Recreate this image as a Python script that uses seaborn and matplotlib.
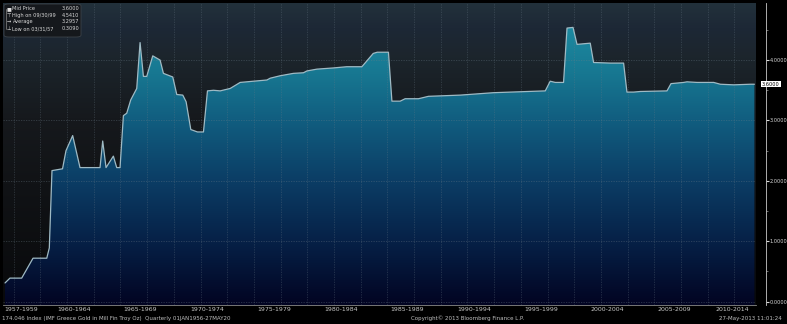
import numpy as np
import matplotlib
matplotlib.use("Agg")
import matplotlib.pyplot as plt
import matplotlib.transforms as mtransforms
from matplotlib.colors import LinearSegmentedColormap
from matplotlib.patches import Polygon, FancyBboxPatch
import seaborn as sns

# ---------------- data ----------------
years = [1957.35, 1957.72, 1958.60, 1959.45, 1960.48, 1960.67, 1960.87, 1961.66,
         1961.92, 1962.42, 1962.97, 1964.47, 1964.67, 1964.92, 1965.47, 1965.72,
         1965.97, 1966.22, 1966.47, 1966.77, 1967.22, 1967.47, 1967.72, 1967.97,
         1968.42, 1968.97, 1969.22, 1969.92, 1970.22, 1970.67, 1970.92, 1971.27,
         1971.77, 1972.22, 1972.52, 1972.97, 1973.47, 1974.22, 1974.97, 1975.96,
         1976.97, 1977.22, 1977.96, 1978.96, 1979.71, 1979.97, 1980.72, 1981.96,
         1982.96, 1984.09, 1984.94, 1985.24, 1986.08, 1986.34, 1986.96, 1987.33,
         1988.33, 1989.08, 1991.46, 1993.95, 1997.83, 1998.20, 1998.58, 1999.20,
         1999.46, 1999.91, 2000.21, 2001.20, 2001.45, 2002.70, 2003.70, 2003.95,
         2004.45, 2004.95, 2006.95, 2007.25, 2008.20, 2008.45, 2009.20, 2010.45,
         2010.95, 2011.95, 2013.20, 2013.50]
gold_moz = [0.31, 0.39, 0.39, 0.72, 0.72, 0.89, 2.17, 2.20,
            2.50, 2.75, 2.22, 2.22, 2.66, 2.22, 2.41, 2.22,
            2.22, 3.08, 3.12, 3.34, 3.53, 4.29, 3.73, 3.73,
            4.07, 4.00, 3.78, 3.72, 3.43, 3.42, 3.31, 2.85,
            2.81, 2.81, 3.49, 3.50, 3.49, 3.53, 3.63, 3.65,
            3.67, 3.70, 3.74, 3.78, 3.79, 3.82, 3.85, 3.87,
            3.89, 3.89, 4.11, 4.13, 4.13, 3.32, 3.32, 3.36,
            3.36, 3.40, 3.42, 3.46, 3.49, 3.65, 3.63, 3.63,
            4.53, 4.541, 4.26, 4.28, 3.96, 3.95, 3.95, 3.47,
            3.47, 3.48, 3.49, 3.61, 3.63, 3.64, 3.63, 3.63,
            3.60, 3.59, 3.60, 3.60]

period_starts = [1957, 1960, 1965, 1970, 1975, 1980, 1985, 1990, 1995, 2000, 2005, 2010]
period_labels = ["1957-1959", "1960-1964", "1965-1969", "1970-1974", "1975-1979",
                 "1980-1984", "1985-1989", "1990-1994", "1995-1999", "2000-2004",
                 "2005-2009", "2010-2014"]
ytick_values = [0, 1, 2, 3, 4]
ytick_labels = ["0.0000", "1.0000", "2.0000", "3.0000", "4.0000"]
last_value_label = "3.6000"
legend_names = ["Mid Price", "High on 09/30/99", "Average", "Low on 03/31/57"]
legend_values = ["3.6000", "4.5410", "3.2957", "0.3090"]
legend_icons = ["\u25A0", "\u22A4", "\u2192", "\u22A5"]
footer_left = "174.046 Index (IMF Greece Gold in Mill Fin Troy Oz)  Quarterly 01JAN1956-27MAY20"
footer_mid = "Copyright\u00a9 2013 Bloomberg Finance L.P."
footer_right = "27-May-2013 11:01:24"

# ---------------- figure ----------------
W, H = 787, 324
sns.set_style("dark")
plt.rcParams["font.family"] = ["DejaVu Sans"]
fig = plt.figure(figsize=(W / 100, H / 100), dpi=100, facecolor="black")


def fx(px):
    return px / W


def fy(py):
    return 1 - py / H


ax = fig.add_axes([fx(3), fy(305), fx(756) - fx(3), fy(3) - fy(305)])
xmin, xmax = 1957.2, 2013.62
ymin, ymax = -0.055, 4.945
ax.set_xlim(xmin, xmax)
ax.set_ylim(ymin, ymax)
ax.set_facecolor("#0a0b0e")

# background gradient
bg_cmap = LinearSegmentedColormap.from_list(
    "bg", [(0.0, "#08090b"), (0.4, "#111316"), (0.62, "#16191d"),
           (0.82, "#1c252c"), (0.92, "#1d2836"), (1.0, "#22313b")])
grad = np.linspace(0, 1, 256).reshape(-1, 1)
ax.imshow(grad, extent=[xmin, xmax, ymin, ymax], aspect="auto", cmap=bg_cmap,
          origin="lower", zorder=0, interpolation="bicubic")

# gradient area fill clipped to the series polygon
fill_cmap = LinearSegmentedColormap.from_list(
    "fill", [(0.0, "#020422"), (0.22, "#062046"), (0.44, "#0b3d65"),
           (0.66, "#115e80"), (0.82, "#177791"), (1.0, "#1d8ba2")])
verts = list(zip(years, gold_moz)) + [(years[-1], ymin), (years[0], ymin)]
poly = Polygon(verts, closed=True, facecolor="none", edgecolor="none")
ax.add_patch(poly)
img = ax.imshow(grad, extent=[xmin, xmax, ymin, 4.6], aspect="auto", cmap=fill_cmap,
                origin="lower", zorder=1, interpolation="bicubic")
img.set_clip_path(poly)

# grid lines
for gx in range(1958, 2014, 2):
    ax.axvline(gx, color="#6c7c88", alpha=0.35, lw=0.6, ls=(0, (1.5, 1.5)), zorder=2)
for gy in ytick_values:
    ax.axhline(gy, color="#6c7c88", alpha=0.4, lw=0.6, ls=(0, (1.5, 1.5)), zorder=2)

# series line
sns.lineplot(x=years, y=gold_moz, ax=ax, color="#9fbac4", linewidth=0.9, zorder=3)

# axes styling
for s in ["top", "left"]:
    ax.spines[s].set_visible(False)
ax.spines["bottom"].set_color("#8a8a8a")
ax.spines["bottom"].set_linewidth(0.6)
ax.spines["right"].set_color("#c8c8c8")
ax.spines["right"].set_linewidth(0.6)
ax.spines["right"].set_position(("outward", 7))
ax.yaxis.tick_right()
ax.set_yticks(ytick_values)
ax.set_yticklabels(ytick_labels)
ax.set_yticks(np.arange(0.5, 4.6, 1.0), minor=True)
ax.tick_params(axis="y", which="major", colors="#d8d8d8", labelsize=3.6,
               length=2.0, width=0.8, pad=0.6, direction="out")
ax.tick_params(axis="y", which="minor", colors="#9a9a9a", length=1.5, width=0.5)
ax.set_xticks(period_starts[1:])
ax.set_xticklabels([])
ax.tick_params(axis="x", colors="#8a8a8a", length=6, width=0.6, direction="out")
ax.set_xlabel("")
ax.set_ylabel("")
ax.grid(False)

# period labels
trans = mtransforms.blended_transform_factory(ax.transData, fig.transFigure)
bounds = [xmin] + period_starts[1:] + [xmax]
for i, lab in enumerate(period_labels):
    cx = (bounds[i] + bounds[i + 1]) / 2
    ax.text(cx, fy(309.5), lab, transform=trans, ha="center", va="center",
            fontsize=4.5, color="#c8c8c8", clip_on=False)

# last value box
tr2 = mtransforms.blended_transform_factory(fig.transFigure, ax.transData)
ax.text(fx(762), gold_moz[-1], last_value_label, transform=tr2, ha="left", va="center",
        fontsize=3.6, color="black", clip_on=False,
        bbox=dict(boxstyle="square,pad=0.15", facecolor="white", edgecolor="none"))

# legend box
box = FancyBboxPatch((fx(4), fy(37)), fx(81) - fx(4), fy(4) - fy(37),
                     boxstyle="round,pad=0,rounding_size=0.006",
                     transform=fig.transFigure, facecolor="#15181c",
                     edgecolor="#3c4248", linewidth=0.6, zorder=10)
fig.add_artist(box)
for i, (nm, val, ic) in enumerate(zip(legend_names, legend_values, legend_icons)):
    yy = fy(8.5 + i * 6.7)
    fig.text(fx(9), yy, ic, ha="center", va="center", fontsize=3.7, color="#e0e0e0", zorder=11)
    fig.text(fx(12.5), yy, nm, ha="left", va="center", fontsize=3.6, color="#d8d8d8", zorder=11)
    fig.text(fx(79.5), yy, val, ha="right", va="center", fontsize=3.6, color="#d8d8d8", zorder=11)
fig.add_artist(plt.Line2D([fx(5.5), fx(5.5)], [fy(8.5), fy(28.6)], color="#8a8a8a",
                          lw=0.5, transform=fig.transFigure, zorder=11))

# footer
fig.text(fx(2), fy(318.5), footer_left, ha="left", va="center", fontsize=4.0, color="#c0c0c0")
fig.text(fx(468), fy(318.5), footer_mid, ha="center", va="center", fontsize=4.0, color="#c0c0c0")
fig.text(fx(782), fy(318.5), footer_right, ha="right", va="center", fontsize=4.0, color="#c0c0c0")

fig.savefig("out.png", dpi=100, facecolor="black")
